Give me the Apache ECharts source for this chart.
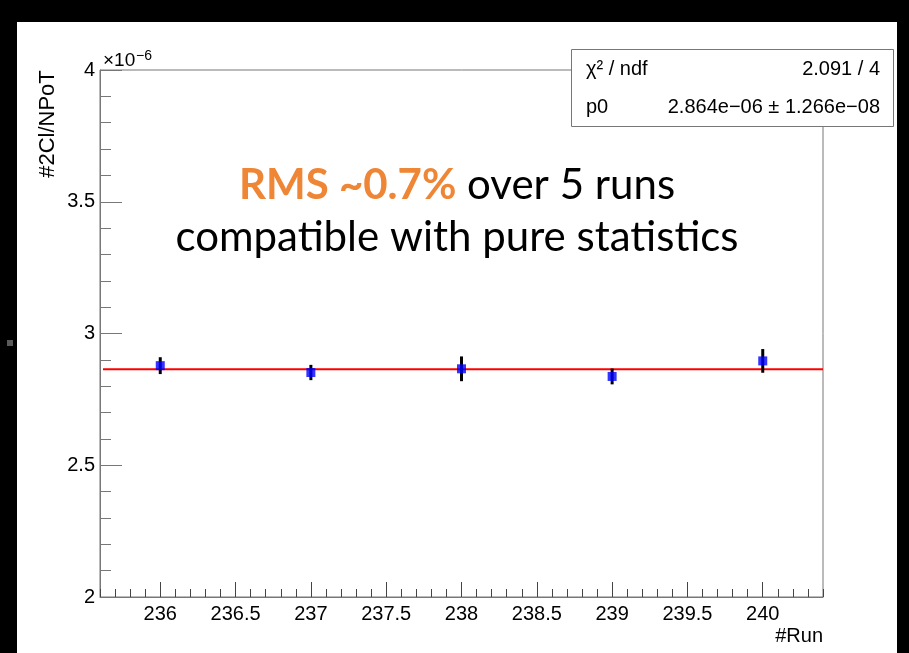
<!DOCTYPE html>
<html><head><meta charset="utf-8">
<script src="https://cdn.jsdelivr.net/npm/echarts@6/dist/echarts.min.js"></script>
<style>html,body{margin:0;padding:0;background:#000;} #c{width:909px;height:653px;}</style>
</head><body><div id="c"></div>
<script>
// Data (y values in units of 10^-6)
const runs = [236, 237, 238, 239, 240];
const ratio = [2.878, 2.852, 2.866, 2.837, 2.896];
const ratioErr = [0.032, 0.029, 0.047, 0.030, 0.045];
const fitP0 = 2.864;
const fitRange = [235.62, 240.4];
const xRange = [235.6, 240.4];
const xMajorTicks = [236, 236.5, 237, 237.5, 238, 238.5, 239, 239.5, 240];
const yTickLabels = [2, 2.5, 3, 3.5, 4];
const statsRows = [['χ² / ndf', '2.091 / 4'], ['p0', '2.864e−06 ± 1.266e−08']];
const yTitle = '#2Cl/NPoT';
const xTitle = '#Run';

const xMinorTicks = [];
for (let k = 0; k <= 48; k++) xMinorTicks.push(Math.round((235.6 + k * 0.1) * 10) / 10);

const FONT = '"Liberation Sans", Arial, sans-serif';
const chart = echarts.init(document.getElementById('c'), null, {renderer: 'canvas'});

const graphic = [
  {type: 'rect', z: -100, silent: true, shape: {x: 17, y: 22, width: 880, height: 631}, style: {fill: '#fff'}},
  {type: 'rect', silent: true, shape: {x: 7, y: 340, width: 6, height: 6}, style: {fill: '#5a5a5a'}},
  {type: 'text', x: 48, y: 124, rotation: Math.PI / 2, style: {text: yTitle, font: '22px ' + FONT, align: 'center', verticalAlign: 'middle', fill: '#000'}},
  {type: 'text', x: 103, y: 70, style: {text: '×10', font: '19px ' + FONT, align: 'left', verticalAlign: 'bottom', fill: '#000'}},
  {type: 'text', x: 136, y: 49, style: {text: '−6', font: '14px ' + FONT, align: 'left', verticalAlign: 'top', fill: '#000'}},
  {type: 'text', x: 823, y: 636, style: {text: xTitle, font: '20px ' + FONT, align: 'right', verticalAlign: 'middle', fill: '#000'}},
  {type: 'rect', z: 100, shape: {x: 571.5, y: 49.5, width: 322, height: 77}, style: {fill: '#fff', stroke: '#777', lineWidth: 1}},
  {type: 'text', z: 101, x: 457, y: 185, style: {
    text: '{o|RMS ~0.7%}{n| over 5 runs}', align: 'center', verticalAlign: 'middle',
    rich: {
      o: {fill: '#EF8636', fontFamily: 'Lato', fontWeight: 'bold', fontSize: 42},
      n: {fill: '#000', fontFamily: 'Lato', fontSize: 42}
    }}},
  {type: 'text', z: 101, x: 457, y: 237, style: {text: 'compatible with pure statistics', font: '42px Lato', align: 'center', verticalAlign: 'middle', fill: '#000'}}
];
statsRows.forEach((row, i) => {
  const y = 69 + i * 38;
  graphic.push({type: 'text', z: 101, x: 586, y: y, style: {text: row[0], font: '20px ' + FONT, align: 'left', verticalAlign: 'middle', fill: '#000'}});
  graphic.push({type: 'text', z: 101, x: 880, y: y, style: {text: row[1], font: '20px ' + FONT, align: 'right', verticalAlign: 'middle', fill: '#000'}});
});

chart.setOption({
  backgroundColor: '#000',
  animation: false,
  grid: {left: 100, top: 70, right: 86, bottom: 56, show: true, borderColor: '#777', borderWidth: 1, backgroundColor: 'transparent'},
  xAxis: [
    {type: 'value', min: xRange[0], max: xRange[1], position: 'bottom',
     axisLine: {show: true, onZero: false, lineStyle: {color: '#777', width: 1}},
     axisTick: {show: true, inside: true, length: 15, customValues: xMajorTicks, lineStyle: {color: '#444'}},
     axisLabel: {show: true, customValues: xMajorTicks, fontSize: 20, fontFamily: FONT, color: '#000', margin: 7},
     splitLine: {show: false}},
    {type: 'value', min: xRange[0], max: xRange[1], position: 'bottom',
     axisLine: {show: false},
     axisTick: {show: true, inside: true, length: 8, customValues: xMinorTicks, lineStyle: {color: '#444'}},
     axisLabel: {show: false},
     splitLine: {show: false}}
  ],
  yAxis: {type: 'value', min: 2, max: 4, interval: 0.5,
    axisLine: {show: true, onZero: false, lineStyle: {color: '#777', width: 1}},
    axisTick: {show: true, inside: true, length: 22, lineStyle: {color: '#777'}},
    minorTick: {show: true, splitNumber: 5, length: 11, lineStyle: {color: '#777'}},
    axisLabel: {fontSize: 20, fontFamily: FONT, color: '#000', margin: 5,
      formatter: v => (yTickLabels.indexOf(v) >= 0 ? String(v) : '')},
    splitLine: {show: false}},
  graphic: graphic,
  series: [
    {type: 'line', xAxisIndex: 0, data: [[fitRange[0], fitP0], [fitRange[1], fitP0]], symbol: 'none',
     lineStyle: {color: '#ff0000', width: 2}, z: 3, silent: true},
    {type: 'custom', xAxisIndex: 0, z: 4, silent: true,
     data: runs.map((r, i) => [r, ratio[i], ratioErr[i]]),
     renderItem: (params, api) => {
       const x = api.value(0), y = api.value(1), e = api.value(2);
       const p1 = api.coord([x, y + e]);
       const p2 = api.coord([x, y - e]);
       return {type: 'line', shape: {x1: p1[0], y1: p1[1], x2: p2[0], y2: p2[1]}, style: {stroke: '#000', lineWidth: 3}};
     }},
    {type: 'scatter', xAxisIndex: 0, z: 5, symbol: 'rect', symbolSize: 9,
     data: runs.map((r, i) => [r, ratio[i]]), itemStyle: {color: '#0000ff'}}
  ]
});
</script></body></html>
